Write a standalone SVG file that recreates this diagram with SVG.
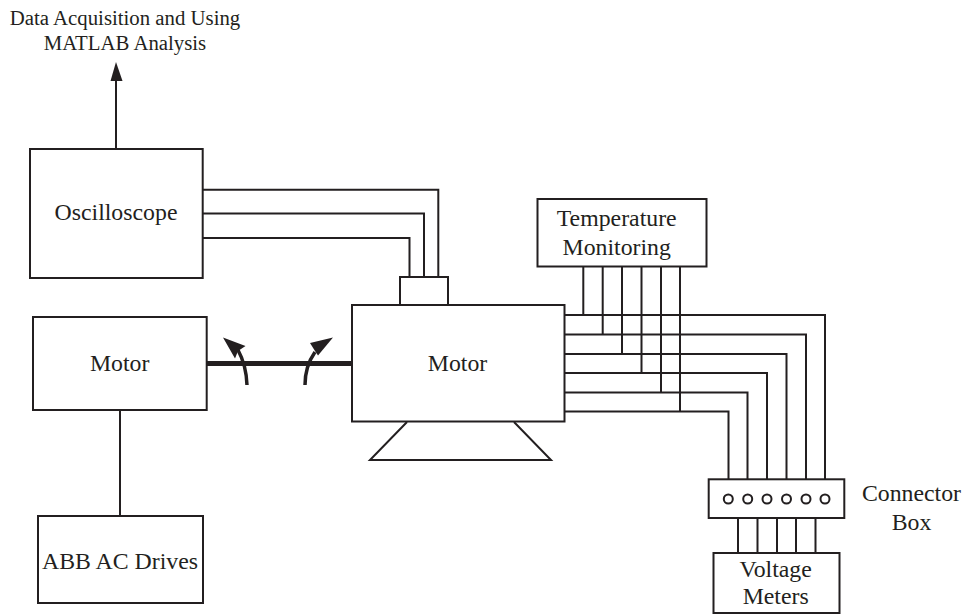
<svg xmlns="http://www.w3.org/2000/svg" width="967" height="614" viewBox="0 0 967 614">
<style>
.b{fill:#fff;stroke:#231f20;stroke-width:2}
.l{fill:none;stroke:#231f20;stroke-width:2}
.h{fill:#231f20;stroke:none}
text{font-family:"Liberation Serif","Times New Roman",serif;fill:#231f20;text-anchor:middle;font-size:23.8px}
.s{font-size:20.8px}
circle{fill:#fff;stroke:#231f20;stroke-width:2}
</style>
<rect width="967" height="614" fill="#fff"/>
<g id="connectors">
<path class="l" d="M116 149V78"/>
<path class="h" d="M116 62L122.500 81H110.500Z"/>
<path class="l" d="M203 189.700H438.300V277M203 213.500H424V277M203 238H409.500V277"/>
<path class="l" d="M120 410V516"/>
<path fill="none" stroke="#231f20" stroke-width="5" d="M207 363.500H352"/>
<path fill="none" stroke="#231f20" stroke-width="3.500" d="M247 385C246.500 372 244 361 238 350M305 385C305 373 308 362 315 352"/>
<path class="h" d="M223 337.500L245.500 346L238 351L235 358.500Z"/>
<path class="h" d="M333 337.500L310 343L315 351L318 355.500Z"/>
<path class="l" d="M564 315H825V479M564 334.500H806V479M564 354H786.500V479M564 373H767V479M564 392.500H747.500V479M564 411.500H728.500V479"/>
<path class="l" d="M583.300 266V315M602.700 266V334.500M622 266V354M641.500 266V373M661 266V392.500M680 266V411.500"/>
<path class="l" d="M738 518V553M757.500 518V553M777 518V553M796 518V553M815.500 518V553"/>
</g>
<g id="data-label"><text class="s" x="125" y="25">Data Acquisition and Using</text><text class="s" x="125" y="50">MATLAB Analysis</text></g>
<g id="oscilloscope"><rect class="b" x="30" y="149" width="172.700" height="129"/><text x="116" y="220">Oscilloscope</text></g>
<g id="motor-left"><rect class="b" x="33" y="317" width="173.700" height="93"/><text x="119.700" y="371">Motor</text></g>
<g id="abb-drives"><rect class="b" x="38" y="516" width="165" height="87"/><text x="120" y="569">ABB AC Drives</text></g>
<g id="sensor"><rect class="b" x="400" y="277" width="48" height="28"/></g>
<g id="motor-base"><path class="l" d="M407 422L370 460H551L514 422"/></g>
<g id="motor-right"><rect class="b" x="352" y="305" width="212.500" height="116.500"/><text x="457.500" y="371">Motor</text></g>
<g id="temperature"><rect class="b" x="537.500" y="199" width="169" height="67.500"/><text x="616.700" y="226">Temperature</text><text x="616.700" y="255">Monitoring</text></g>
<g id="connector-box"><rect class="b" x="708.700" y="479.300" width="135.600" height="38.700"/>
<circle cx="728.300" cy="499" r="4.500"/><circle cx="747.700" cy="499" r="4.500"/><circle cx="767" cy="499" r="4.500"/><circle cx="786.500" cy="499" r="4.500"/><circle cx="806" cy="499" r="4.500"/><circle cx="825" cy="499" r="4.500"/>
<text x="911.500" y="501">Connector</text><text x="911.500" y="530">Box</text></g>
<g id="voltage-meters"><rect class="b" x="713.500" y="553" width="126" height="60"/><text x="775.700" y="577">Voltage</text><text x="775.700" y="604">Meters</text></g>
</svg>
